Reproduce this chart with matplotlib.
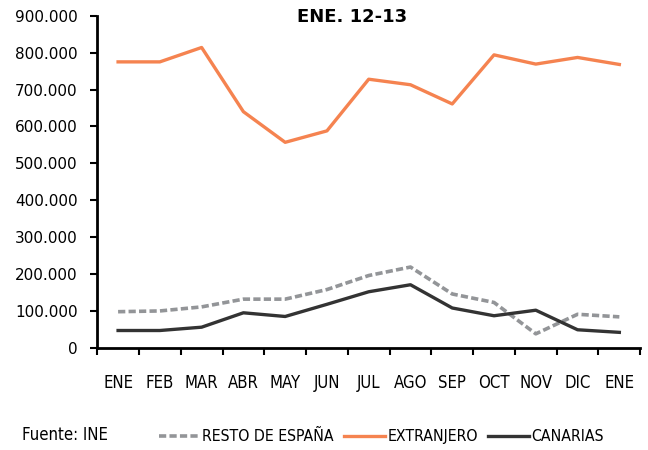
import matplotlib
matplotlib.use("Agg")
import matplotlib.pyplot as plt
import numpy as np
from matplotlib.ticker import FuncFormatter

meses = ["ENE", "FEB", "MAR", "ABR", "MAY", "JUN", "JUL", "AGO", "SEP", "OCT", "NOV", "DIC", "ENE"]
resto_espana = [98, 100, 111, 132, 132, 158, 196, 219, 146, 123, 38, 91, 84]
extranjero = [775, 775, 814, 640, 557, 588, 728, 713, 661, 794, 769, 787, 768]
canarias = [47, 47, 56, 95, 85, 118, 152, 171, 108, 87, 102, 49, 42]

# valores en miles
resto_espana = np.array(resto_espana) * 1000
extranjero = np.array(extranjero) * 1000
canarias = np.array(canarias) * 1000

narrow = {"family": "DejaVu Sans", "stretch": "condensed"}

fig = plt.figure(figsize=(6.48, 4.5), dpi=100)
ax = fig.add_axes([0.150, 0.227, 0.838, 0.738])

x = np.arange(len(meses))
l1, = ax.plot(x, resto_espana, color="#939598", lw=2.6, ls=(0, (2.0, 0.9)), label="RESTO DE ESPAÑA")
l2, = ax.plot(x, extranjero, color="#F58350", lw=2.4, label="EXTRANJERO")
l3, = ax.plot(x, canarias, color="#333333", lw=2.4, label="CANARIAS")

ax.set_xlim(-0.5, len(meses) - 0.5)
ax.set_ylim(0, 900000)
ax.set_yticks(np.arange(0, 900001, 100000))
ax.yaxis.set_major_formatter(FuncFormatter(lambda v, p: "0" if v == 0 else "{:,.0f}".format(v).replace(",", ".")))

ax.set_xticks(np.arange(-0.5, len(meses), 1.0))
ax.set_xticklabels([])
ax.set_xticks(x, minor=True)
ax.set_xticklabels(meses, minor=True, fontsize=12, **narrow)
ax.tick_params(axis="x", which="minor", length=0, pad=19)
ax.tick_params(axis="x", which="major", direction="out", length=5, width=1.5)
ax.tick_params(axis="y", direction="out", length=5, width=1.5, labelsize=11, pad=9)
for lab in ax.get_yticklabels():
    lab.set_fontfamily("DejaVu Sans")

for s in ["top", "right"]:
    ax.spines[s].set_visible(False)
ax.spines["left"].set_linewidth(2)
ax.spines["bottom"].set_linewidth(2)

fig.text(0.543, 0.962, "ENE. 12-13", ha="center", va="center", fontsize=13,
         fontweight="bold", fontfamily="DejaVu Sans")

fig.text(0.034, 0.034, "Fuente: INE", fontsize=12, va="center", **narrow)
fig.legend(handles=[l1, l2, l3], loc="center left", bbox_to_anchor=(0.224, 0.029), ncol=3,
           frameon=False, handlelength=2.6, handletextpad=0.15, columnspacing=0.65,
           prop={"size": 11.3, **narrow})

fig.savefig("out.png", dpi=100)
